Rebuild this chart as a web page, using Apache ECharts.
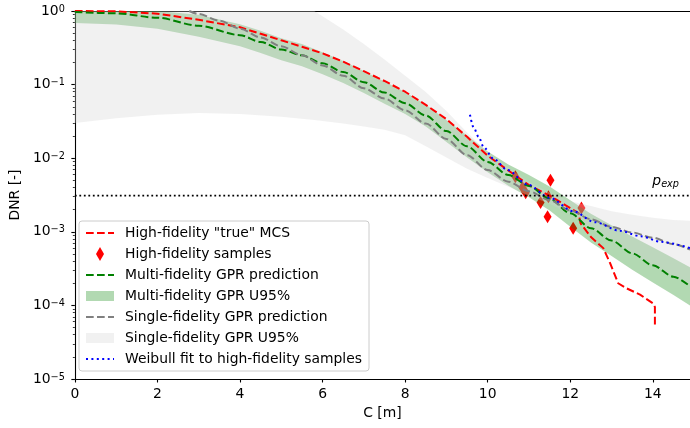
<!DOCTYPE html>
<html>
<head>
<meta charset="utf-8">
<script src="https://cdn.jsdelivr.net/npm/echarts@6/dist/echarts.min.js"></script>
<style>
html, body { margin: 0; padding: 0; background: #fff; }
#chart { width: 690px; height: 428px; }
</style>
</head>
<body>
<div id="chart"></div>
<script>
// high-fidelity "true" MCS curve
var mcsX = [0, 1, 2, 3, 4, 4.5, 5, 5.5, 6, 6.5, 7, 7.5, 8, 8.5, 9, 9.5, 10, 10.5, 11, 11.5, 12, 12.2, 12.25, 12.5, 12.8, 12.96, 13.16, 13.37, 13.69, 14.0, 14.05, 14.05];
var mcsY = [1.0, 0.99, 0.92, 0.76, 0.60, 0.49, 0.40, 0.327, 0.266, 0.205, 0.152, 0.112, 0.080, 0.053, 0.034, 0.0195, 0.0108, 0.0068, 0.0043, 0.0031, 0.0021, 0.0018, 0.0013, 0.00085, 0.0006, 0.00038, 0.0002, 0.00017, 0.00014, 0.000107, 0.000095, 0.000054];

// high-fidelity samples
var sampleX = [10.67, 10.84, 10.92, 11.28, 11.47, 11.52, 11.45, 12.27, 12.07];
var sampleY = [0.0056, 0.0040, 0.0034, 0.0025, 0.0030, 0.0050, 0.0016, 0.0021, 0.00112];

// multi-fidelity GPR
var mfX  = [0, 1, 2, 3, 4, 4.5, 5, 5.5, 6, 6.5, 7, 7.5, 8, 8.5, 9, 9.5, 10, 10.5, 11, 11.5, 12, 12.5, 13, 13.5, 14, 14.5, 14.9];
var mfY  = [0.97, 0.93, 0.81, 0.63, 0.47, 0.38, 0.30, 0.25, 0.195, 0.148, 0.108, 0.078, 0.056, 0.038, 0.0234, 0.0145, 0.0089, 0.0059, 0.0042, 0.0028, 0.00178, 0.00112, 0.00076, 0.00051, 0.00035, 0.000245, 0.000182];
var mfHi = [1, 1, 1, 0.89, 0.66, 0.537, 0.427, 0.355, 0.275, 0.209, 0.153, 0.110, 0.0794, 0.0537, 0.0331, 0.0204, 0.0123, 0.00822, 0.00589, 0.00412, 0.00269, 0.00176, 0.00123, 0.000861, 0.000617, 0.000437, 0.000331];
var mfLo = [0.687, 0.658, 0.575, 0.447, 0.331, 0.269, 0.214, 0.178, 0.138, 0.105, 0.0767, 0.055, 0.0398, 0.0269, 0.0166, 0.0102, 0.00646, 0.00422, 0.00295, 0.00195, 0.00117, 0.000716, 0.000468, 0.000305, 0.000204, 0.000138, 0.0001];

// single-fidelity GPR
var sfX = [2.77, 3, 3.5, 4, 4.5, 5, 5.5, 6, 6.5, 7, 7.5, 8, 8.5, 9, 9.5, 10, 10.5, 11, 11.5, 12, 12.5, 13, 13.5, 14, 14.5, 14.9];
var sfY = [1.0, 0.91, 0.74, 0.575, 0.436, 0.331, 0.251, 0.182, 0.132, 0.0891, 0.0646, 0.0447, 0.0295, 0.0182, 0.011, 0.0069, 0.0048, 0.00355, 0.00269, 0.00195, 0.00148, 0.00117, 0.00098, 0.00083, 0.00068, 0.000575];
var sfBandX = [0, 1, 2, 3, 4, 5, 5.8, 6, 6.5, 7, 7.5, 8, 8.5, 9, 9.5, 10, 10.5, 11, 11.5, 12, 12.5, 13, 13.5, 14, 14.5, 14.9];
var sfHi = [1, 1, 1, 1, 1, 1, 1, 0.85, 0.56, 0.355, 0.219, 0.132, 0.0794, 0.0437, 0.0224, 0.012, 0.0074, 0.0048, 0.0034, 0.0026, 0.00224, 0.0019, 0.0017, 0.00155, 0.00145, 0.00141];
var sfLo = [0.030, 0.035, 0.039, 0.041, 0.040, 0.0365, 0.033, 0.032, 0.0295, 0.027, 0.0243, 0.0205, 0.0145, 0.0102, 0.0072, 0.0054, 0.0041, 0.0031, 0.0024, 0.00175, 0.0011, 0.00075, 0.0005, 0.00035, 0.00025, 0.00019];

// weibull fit
var wbX = [9.57, 9.66, 9.78, 9.9, 10.14, 10.48, 10.96, 11.5, 12.07, 12.6, 13.2, 13.7, 14.2, 14.9];
var wbY = [0.039, 0.026, 0.0195, 0.0142, 0.0098, 0.0069, 0.0044, 0.0029, 0.0019, 0.00135, 0.00103, 0.00087, 0.00073, 0.0006];

// exceedance threshold line
var pExpX = [0, 14.9];
var pExp = 0.0031;
var xTicks = [0, 2, 4, 6, 8, 10, 12, 14];

var FONT = 'DejaVu Sans';
var chart = echarts.init(document.getElementById('chart'));

function pairs(xs, ys) {
	var out = [];
	for (var i = 0; i < xs.length; i++) out.push([xs[i], ys[i]]);
	return out;
}

// one polygon for the whole band, drawn when the first item is rendered
function bandItem(xs, lo, hi, fill) {
	return function (params, api) {
		if (params.dataIndex !== 0) return null;
		var pts = [];
		for (var i = 0; i < xs.length; i++) pts.push(api.coord([xs[i], hi[i]]));
		for (var j = xs.length - 1; j >= 0; j--) pts.push(api.coord([xs[j], lo[j]]));
		return { type: 'polygon', shape: { points: pts }, style: { fill: fill } };
	};
}

// minor tick positions (2..9 x 10^k) on a linear exponent axis
var minorTicks = [];
for (var d = -5; d < 0; d++) {
	for (var k = 2; k <= 9; k++) minorTicks.push(d + Math.log10(k));
}

var dash = [7.7, 3.3];
var GREEN_BAND = 'rgba(0,128,0,0.3)';
var GRAY_BAND = 'rgba(211,211,211,0.32)';
var noSymbol = { color: 'rgba(0,0,0,0)', borderWidth: 0 };

var option = {
	animation: false,
	textStyle: { fontFamily: FONT },
	grid: { left: 72, right: 0, top: 11, bottom: 49, containLabel: false },
	legend: {
		orient: 'vertical',
		left: 79,
		top: 221,
		padding: [5, 7, 5, 6],
		itemGap: 7,
		itemWidth: 28,
		itemHeight: 14,
		backgroundColor: 'rgba(255,255,255,0.8)',
		borderColor: '#cccccc',
		borderWidth: 1,
		borderRadius: 3,
		selectedMode: false,
		textStyle: { fontSize: 13.9, color: '#000', fontFamily: FONT, padding: [0, 0, 0, 6] },
		data: [
			{ name: 'High-fidelity "true" MCS', itemStyle: noSymbol },
			{ name: 'High-fidelity samples', icon: 'path://M4,0 L8,7 L4,14 L0,7 Z', itemStyle: { color: 'red', opacity: 1 } },
			{ name: 'Multi-fidelity GPR prediction', itemStyle: noSymbol },
			{ name: 'Multi-fidelity GPR U95%', icon: 'path://M0,0 L28,0 L28,10 L0,10 Z', itemStyle: { color: GREEN_BAND, borderWidth: 0 } },
			{ name: 'Single-fidelity GPR prediction', itemStyle: noSymbol },
			{ name: 'Single-fidelity GPR U95%', icon: 'path://M0,0 L28,0 L28,10 L0,10 Z', itemStyle: { color: GRAY_BAND, borderWidth: 0 } },
			{ name: 'Weibull fit to high-fidelity samples', itemStyle: noSymbol }
		]
	},
	xAxis: [{
		type: 'value', min: 0, max: 14.9, position: 'bottom',
		name: 'C [m]', nameLocation: 'middle', nameGap: 27,
		nameTextStyle: { fontSize: 13.9, color: '#000', fontFamily: FONT },
		axisLine: { show: true, onZero: false, lineStyle: { color: '#000', width: 1.1 } },
		axisTick: { show: true, length: 3.5, customValues: xTicks, lineStyle: { color: '#000', width: 1.1 } },
		axisLabel: { customValues: xTicks, margin: 8, fontSize: 13.9, color: '#000', fontFamily: FONT },
		splitLine: { show: false }
	}, {
		type: 'value', min: 0, max: 14.9, position: 'top',
		axisLine: { show: true, onZero: false, lineStyle: { color: '#000', width: 1.1 } },
		axisTick: { show: false }, axisLabel: { show: false }, splitLine: { show: false }
	}],
	yAxis: [{
		type: 'log', logBase: 10, min: 1e-5, max: 1, interval: 1,
		name: 'DNR [-]', nameLocation: 'middle', nameGap: 50,
		nameTextStyle: { fontSize: 13.9, color: '#000', fontFamily: FONT },
		axisLine: { show: true, lineStyle: { color: '#000', width: 1.1 } },
		axisTick: { show: true, length: 3.5, lineStyle: { color: '#000', width: 1.1 } },
		axisLabel: {
			margin: 10,
			formatter: function (v) {
				var e = Math.round(Math.log10(v));
				return '{b|10}{s|' + (e === 0 ? '0' : '\u2212' + (-e)) + '}';
			},
			rich: {
				b: { fontSize: 13.9, color: '#000', fontFamily: FONT, lineHeight: 14 },
				s: { fontSize: 9.7, color: '#000', fontFamily: FONT, lineHeight: 10, verticalAlign: 'top' }
			}
		},
		splitLine: { show: false }
	}, {
		type: 'value', min: -5, max: 0, position: 'left',
		axisLine: { show: false }, axisLabel: { show: false }, splitLine: { show: false },
		axisTick: { show: true, length: 2, customValues: minorTicks, lineStyle: { color: '#000', width: 0.8 } }
	}],
	series: [
		{
			name: 'High-fidelity samples', type: 'scatter', z: 1,
			symbol: 'path://M4,0 L8,7 L4,14 L0,7 Z', symbolSize: [8, 13],
			itemStyle: { color: 'red', opacity: 1 },
			data: pairs(sampleX, sampleY)
		},
		{
			name: 'Multi-fidelity GPR U95%', type: 'custom', z: 2,
			itemStyle: { color: GREEN_BAND },
			renderItem: bandItem(mfX, mfLo, mfHi, GREEN_BAND),
			encode: { x: 0, y: [1, 2] },
			data: mfX.map(function (x, i) { return [x, mfLo[i], mfHi[i]]; })
		},
		{
			name: 'Single-fidelity GPR U95%', type: 'custom', z: 2,
			itemStyle: { color: GRAY_BAND },
			renderItem: bandItem(sfBandX, sfLo, sfHi, GRAY_BAND),
			encode: { x: 0, y: [1, 2] },
			data: sfBandX.map(function (x, i) { return [x, sfLo[i], sfHi[i]]; })
		},
		{
			name: 'High-fidelity "true" MCS', type: 'line', z: 3, symbol: 'none',
			lineStyle: { color: 'red', width: 2, type: dash },
			itemStyle: { color: 'red' },
			data: pairs(mcsX, mcsY)
		},
		{
			name: 'Multi-fidelity GPR prediction', type: 'line', z: 3, symbol: 'none',
			smooth: 0.3, smoothMonotone: 'x',
			lineStyle: { color: 'green', width: 2, type: dash },
			itemStyle: { color: 'green' },
			data: pairs(mfX, mfY)
		},
		{
			name: 'Single-fidelity GPR prediction', type: 'line', z: 3, symbol: 'none',
			smooth: 0.3, smoothMonotone: 'x',
			lineStyle: { color: 'gray', width: 2, type: dash },
			itemStyle: { color: 'gray' },
			data: pairs(sfX, sfY)
		},
		{
			name: 'Weibull fit to high-fidelity samples', type: 'line', z: 3, symbol: 'none',
			smooth: 0.3, smoothMonotone: 'x',
			lineStyle: { color: 'blue', width: 2, type: [2, 3.4] },
			itemStyle: { color: 'blue' },
			data: pairs(wbX, wbY)
		},
		{
			name: 'pexp', type: 'line', z: 3, symbol: 'none', silent: true,
			lineStyle: { color: '#000', width: 1.8, type: [1.8, 2.7] },
			itemStyle: { color: '#000' },
			data: pExpX.map(function (x) { return [x, pExp]; }),
			endLabel: {
				show: true, distance: 0, offset: [-11, -6],
				align: 'right', verticalAlign: 'bottom',
				formatter: '{p|p}{e|exp}',
				rich: {
					p: { fontSize: 13.9, fontStyle: 'italic', color: '#000', fontFamily: FONT, lineHeight: 16 },
					e: { fontSize: 9.7, fontStyle: 'italic', color: '#000', fontFamily: FONT, lineHeight: 12, verticalAlign: 'bottom' }
				}
			}
		}
	]
};

chart.setOption(option);
</script>
</body>
</html>
